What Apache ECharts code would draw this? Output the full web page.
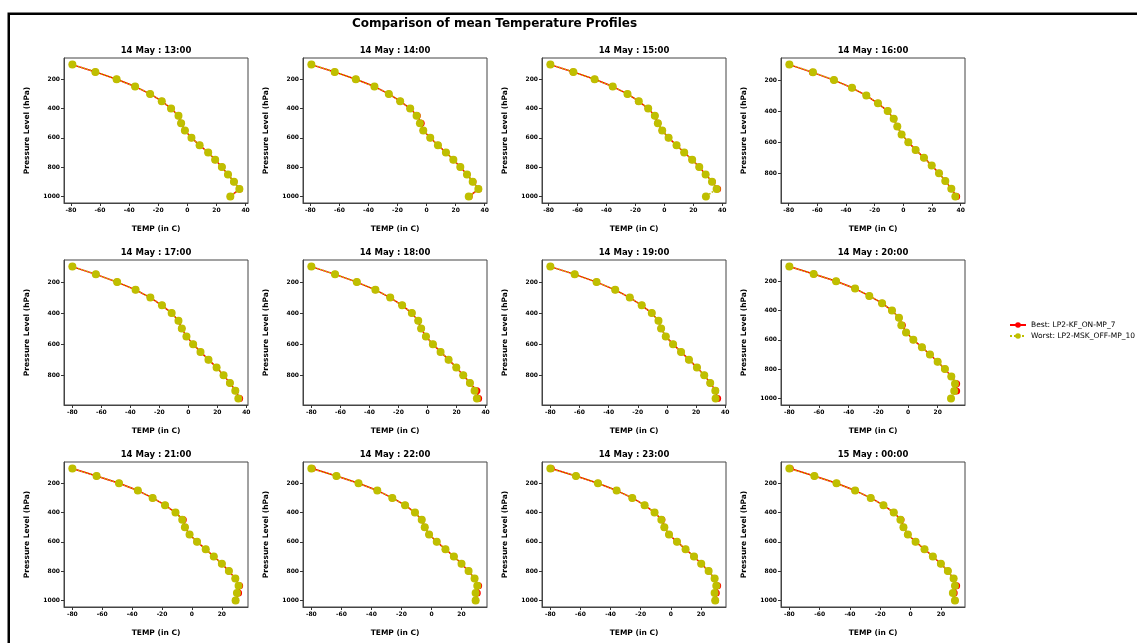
<!DOCTYPE html>
<html>
<head>
<meta charset="utf-8">
<script src="https://cdn.jsdelivr.net/npm/echarts@6/dist/echarts.min.js"></script>
<style>
html,body{margin:0;padding:0;background:#fff;}
#chart{width:1137px;height:643px;}
</style>
</head>
<body>
<div id="chart"></div>
<script>
const levels = [100,150,200,250,300,350,400,450,500,550,600,650,700,750,800,850,900,950,1000];
const titles = ['14 May : 13:00','14 May : 14:00','14 May : 15:00','14 May : 16:00',
                '14 May : 17:00','14 May : 18:00','14 May : 19:00','14 May : 20:00',
                '14 May : 21:00','14 May : 22:00','14 May : 23:00','15 May : 00:00'];
const xTicks = [-80,-60,-40,-20,0,20,40];
const yTicks = [200,400,600,800,1000];
const bestName = 'Best: LP2-KF_ON-MP_7';
const worstName = 'Worst: LP2-MSK_OFF-MP_10';

const w13 = [-79,-63.2,-48.6,-35.9,-25.6,-17.6,-11.2,-6.1,-4.3,-1.7,2.8,8.4,14.3,19.1,23.7,27.9,32,35.7,29.5];
const b13 = [-79,-63.2,-48.6,-35.9,-25.6,-17.6,-11.2,-6.1,-4.3,-1.7,2.8,8.4,14.3,19.1,23.7,27.9,32,35.9,29.5];
const w14 = [-79.3,-63.2,-48.7,-35.9,-26,-18.2,-11.3,-6.9,-4.6,-2.3,2.5,7.8,13.3,18.4,23.2,27.8,31.7,35.6,29];
const b14 = [-79.3,-63.4,-48.7,-35.9,-26,-18.2,-11.3,-6.4,-3.7,-2.3,2.5,7.8,13.3,18.4,23.2,27.8,31.9,35.8,29.3];
const w15 = [-78.8,-62.9,-48.2,-35.7,-25.5,-17.7,-11.2,-6.6,-4.5,-1.5,2.9,8.4,13.7,19.2,24.1,28.5,32.9,36.1,28.7];
const b15 = [-78.8,-63.1,-48.2,-35.7,-25.5,-17.9,-11.2,-6.6,-4.5,-1.5,2.9,8.4,13.7,19.2,24.1,28.5,33.1,36.8,null];
const w16 = [-79.5,-63,-48.4,-35.8,-25.8,-17.7,-10.9,-6.7,-4.2,-1.2,3.5,8.6,14.4,19.8,24.9,29.3,33.5,36.3,null];
const b16 = [-79.5,-63.4,-48.4,-35.8,-25.8,-17.7,-10.9,-6.7,-4.2,-1.2,3.5,8.6,14.4,19.8,24.9,29.3,33.5,37.2,null];
const w17 = [-80,-63.8,-49.1,-36.4,-26.2,-18.2,-11.5,-6.8,-4.5,-1.3,3.3,8.4,13.9,19.5,24.3,28.7,32.4,34.5,null];
const b17 = [-80,-63.8,-49.1,-36.4,-26.2,-18.2,-11.5,-6.8,-4.5,-1.3,3.3,8.4,13.9,19.5,24.3,28.7,32.6,35.4,null];
const w18 = [-80,-63.7,-48.7,-35.9,-25.7,-17.5,-10.8,-6.4,-4.4,-1.1,3.7,9,14.5,19.8,24.6,29.2,32.4,34,null];
const b18 = [-80,-63.7,-48.7,-35.9,-25.7,-17.5,-10.8,-6.4,-4.4,-1.1,3.7,9,14.5,19.8,24.6,29.2,34,35.2,null];
const w19 = [-80,-63.3,-48.3,-35.5,-25.5,-17.3,-10.4,-5.8,-4,-0.8,4.2,9.7,15.1,20.6,25.6,29.7,33.2,33.4,null];
const b19 = [-80,-63.3,-48.3,-35.5,-25.5,-17.3,-10.4,-5.8,-4,-0.8,4.2,9.7,15.1,20.6,25.6,29.7,33.4,34.8,null];
const w20 = [-80,-63.6,-48.5,-35.7,-26.1,-17.5,-10.8,-6.1,-4.5,-1.3,3.6,9.4,14.8,20,24.9,29.2,31.7,31.2,29];
const b20 = [-80,-63.6,-48.5,-35.7,-26.1,-17.5,-10.8,-6.1,-3.8,-1.3,3.6,9.4,14.8,20,24.9,29.2,32.8,32.8,null];
const w21 = [-80,-63.8,-48.8,-36.2,-26.3,-18,-11,-6.5,-4.7,-1.6,3.4,9.2,14.6,20,24.7,29,31.2,30.1,29.2];
const b21 = [-80,-63.8,-48.8,-36.2,-26.3,-18,-11,-5.8,-4.7,-1.6,3.4,9.2,14.6,20,24.7,29,31.9,31.2,29.2];
const w22 = [-80,-63.3,-48.6,-36.1,-26.1,-17.6,-11,-6.5,-4.5,-1.6,3.5,9.3,14.9,20,24.7,28.7,30.5,29.4,29.4];
const b22 = [-79.4,-63.3,-48.6,-36.1,-26.1,-17.6,-11,-6.5,-4.5,-1.6,3.5,9.3,14.9,20,24.7,28.7,31.4,30.5,29.4];
const w23 = [-80,-63,-48.4,-36,-25.6,-17.4,-10.8,-6.3,-4.3,-1.2,4.1,9.8,15.4,20.2,25.1,29.1,30.2,29.1,29.5];
const b23 = [-79.4,-63,-48.4,-36,-25.6,-17.4,-10.8,-5.9,-4.3,-1.2,4.1,9.8,15.4,20.2,25.1,29.1,31.1,30.2,29.5];
const w00 = [-80,-63.5,-48.9,-36.6,-26.3,-17.9,-11.1,-6.7,-4.7,-1.8,3.3,9.2,14.7,20,24.6,28.4,29.3,27.9,29.3];
const b00 = [-79.4,-63.5,-48.9,-36.6,-26.3,-17.9,-11.1,-6.3,-4.7,-1.8,3.3,9.2,14.7,20,24.6,28.4,30.4,28.8,29.3];

const bestAll = [b13,b14,b15,b16,b17,b18,b19,b20,b21,b22,b23,b00];
const worstAll = [w13,w14,w15,w16,w17,w18,w19,w20,w21,w22,w23,w00];

const FONT = 'DejaVu Sans';
const colLefts = [64, 303, 542, 781];
const rowTops = [58, 260, 462];
const GW = 184, GH = 145;

function pairs(arr){
  const out = [];
  arr.forEach((t,i)=>{ if(t!==null && t!==undefined) out.push([t, levels[i]]); });
  return out;
}
const plain = v => String(Math.round(v));

const grids = [], xAxes = [], yAxes = [], series = [], graphics = [];

graphics.push({type:'rect', shape:{x:8.75, y:13.75, width:1200, height:700},
  style:{fill:'none', stroke:'#000', lineWidth:2.5}, silent:true});
graphics.push({type:'text', x:494.5, y:23.5, style:{text:'Comparison of mean Temperature Profiles',
  font:'bold 12px "DejaVu Sans"', fill:'#000', textAlign:'center', textVerticalAlign:'middle'}});

for(let i=0;i<12;i++){
  const r = Math.floor(i/4), c = i%4;
  const left = colLefts[c], top = rowTops[r];
  const bp = pairs(bestAll[i]), wp = pairs(worstAll[i]);
  const all = bp.concat(wp);
  const ts = all.map(p=>p[0]), ps = all.map(p=>p[1]);
  const tmin = Math.min(...ts), tmax = Math.max(...ts);
  const pmin = Math.min(...ps), pmax = Math.max(...ps);
  const xmin = tmin - 0.05*(tmax-tmin), xmax = tmax + 0.05*(tmax-tmin);
  const ymin = pmin - 0.05*(pmax-pmin), ymax = pmax + 0.05*(pmax-pmin);
  const xt = xTicks.filter(v=>v>=xmin && v<=xmax);
  const yt = yTicks.filter(v=>v>=ymin && v<=ymax);

  grids.push({left:left, top:top, width:GW, height:GH, show:true, borderColor:'#444', borderWidth:1, backgroundColor:'#fff'});
  xAxes.push({gridIndex:i, type:'value', min:xmin, max:xmax,
    name:'TEMP (in C)', nameLocation:'middle', nameGap:22,
    nameTextStyle:{fontFamily:FONT, fontWeight:'bold', fontSize:7.5, color:'#000'},
    axisLine:{show:true, onZero:false, lineStyle:{color:'#444', width:1}},
    axisTick:{show:true, customValues:xt, length:3, lineStyle:{color:'#333'}},
    axisLabel:{customValues:xt, formatter:plain, fontFamily:FONT, fontSize:6, fontWeight:'bold', color:'#000', margin:4},
    splitLine:{show:false}});
  yAxes.push({gridIndex:i, type:'value', inverse:true, min:ymin, max:ymax,
    name:'Pressure Level (hPa)', nameLocation:'middle', nameGap:33, nameRotate:90,
    nameTextStyle:{fontFamily:FONT, fontWeight:'bold', fontSize:7.5, color:'#000'},
    axisLine:{show:true, onZero:false, lineStyle:{color:'#444', width:1}},
    axisTick:{show:true, customValues:yt, length:3, lineStyle:{color:'#333'}},
    axisLabel:{customValues:yt, formatter:plain, fontFamily:FONT, fontSize:6, fontWeight:'bold', color:'#000', margin:4},
    splitLine:{show:false}});
  series.push({type:'line', name:bestName, xAxisIndex:i, yAxisIndex:i, data:bp,
    symbol:'circle', symbolSize:7, z:2,
    itemStyle:{color:'#ff0000'}, lineStyle:{color:'#ff0000', width:1.5}});
  series.push({type:'line', name:worstName, xAxisIndex:i, yAxisIndex:i, data:wp,
    symbol:'circle', symbolSize:8, z:3,
    itemStyle:{color:'#bfbf00'}, lineStyle:{color:'#bfbf00', width:1.5, type:'dotted'}});
  graphics.push({type:'text', x:left+GW/2, y:top-7, style:{text:titles[i],
    font:'bold 8.5px "DejaVu Sans"', fill:'#000', textAlign:'center', textVerticalAlign:'middle'}});
}

const chart = echarts.init(document.getElementById('chart'), null, {renderer:'canvas'});
chart.setOption({
  backgroundColor:'#fff',
  animation:false,
  textStyle:{fontFamily:FONT},
  grid:grids, xAxis:xAxes, yAxis:yAxes, series:series,
  legend:{orient:'vertical', left:1009, top:321, padding:0, itemWidth:16, itemHeight:7, itemGap:3,
    textStyle:{fontFamily:FONT, fontSize:7.5, color:'#000'},
    data:[bestName, worstName], selectedMode:false},
  graphic:graphics
});
</script>
</body>
</html>
